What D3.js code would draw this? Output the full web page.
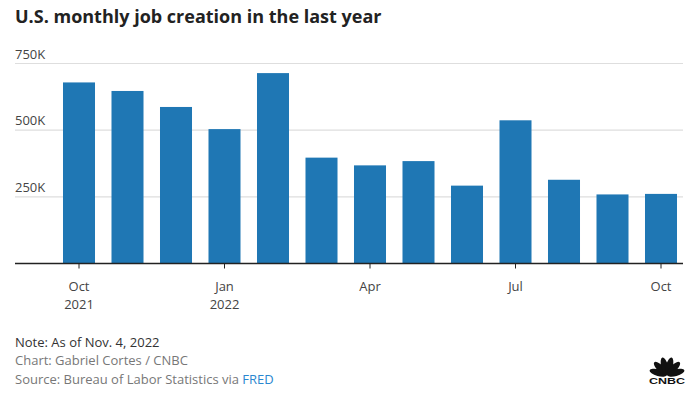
<!DOCTYPE html>
<html>
<head>
<meta charset="utf-8">
<script src="https://cdn.jsdelivr.net/npm/d3@7"></script>
<style>
  body { margin: 0; background: #fff; }
  svg { font-family: "Open Sans", Lato, sans-serif; }
</style>
</head>
<body>
<div class="canvas"></div>
<script>
// data
const months = ['2021-10','2021-11','2021-12','2022-01','2022-02','2022-03','2022-04',
                '2022-05','2022-06','2022-07','2022-08','2022-09','2022-10'];
const jobs = [679, 647, 587, 504, 714, 397, 368, 384, 292, 537, 314, 259, 261]; // thousands
const yTicks = [250, 500, 750];
const xTickLabels = {'2021-10': ['Oct','2021'], '2022-01': ['Jan','2022'], '2022-04': ['Apr'],
                     '2022-07': ['Jul'], '2022-10': ['Oct']};

const dims = {width: 700, height: 400};
const plot = {left: 15, right: 683, top: 63.5, bottom: 263.5};

const svg = d3.select('.canvas').append('svg')
  .attr('width', dims.width)
  .attr('height', dims.height);

// title
svg.append('text')
  .attr('x', 15).attr('y', 23)
  .attr('font-size', 18).attr('font-weight', 700)
  .attr('fill', '#222')
  .text('U.S. monthly job creation in the last year');

const x = d3.scaleBand()
  .domain(months)
  .range([54.75, 685.25])
  .paddingInner(0.34)
  .paddingOuter(0.17);

const y = d3.scaleLinear()
  .domain([0, 750])
  .range([plot.bottom, plot.top]);

// gridlines + labels
const grid = svg.append('g');
grid.selectAll('line').data(yTicks).enter().append('line')
  .attr('x1', plot.left).attr('x2', plot.right)
  .attr('y1', d => y(d)).attr('y2', d => y(d))
  .attr('stroke', '#dedede').attr('stroke-width', 1.2);
grid.selectAll('text').data(yTicks).enter().append('text')
  .attr('x', plot.left).attr('y', d => y(d) - 5)
  .attr('font-size', 13).attr('fill', '#444')
  .text(d => d + 'K');

// bars
svg.append('g').selectAll('rect').data(jobs).enter().append('rect')
  .attr('x', (d, i) => x(months[i]))
  .attr('width', x.bandwidth())
  .attr('y', d => y(d))
  .attr('height', d => y(0) - y(d))
  .attr('fill', '#1f77b4');

// x axis
const xAxis = svg.append('g');
xAxis.append('line')
  .attr('x1', plot.left).attr('x2', plot.right)
  .attr('y1', y(0)).attr('y2', y(0))
  .attr('stroke', '#222').attr('stroke-width', 1.5);

const tickMonths = Object.keys(xTickLabels);
const ticks = xAxis.selectAll('g.tick').data(tickMonths).enter().append('g')
  .attr('class', 'tick')
  .attr('transform', d => `translate(${x(d) + x.bandwidth() / 2},0)`);
ticks.append('line')
  .attr('y1', y(0)).attr('y2', y(0) + 5)
  .attr('stroke', '#222').attr('stroke-width', 1);
ticks.each(function(d) {
  const t = d3.select(this).append('text')
    .attr('text-anchor', 'middle')
    .attr('font-size', 13).attr('fill', '#444');
  xTickLabels[d].forEach((s, k) => {
    t.append('tspan').attr('x', 0).attr('y', 291 + k * 18).text(s);
  });
});

// footer
const foot = svg.append('g').attr('font-size', 13);
foot.append('text').attr('x', 15).attr('y', 346.5).attr('fill', '#333')
  .text('Note: As of Nov. 4, 2022');
foot.append('text').attr('x', 15).attr('y', 365).attr('fill', '#777')
  .text('Chart: Gabriel Cortes / CNBC');
const src = foot.append('text').attr('x', 15).attr('y', 383.5).attr('fill', '#777');
src.append('tspan').text('Source: Bureau of Labor Statistics via ');
src.append('tspan').attr('fill', '#2a87d0').text('FRED');

// CNBC peacock logo (rough)
const logo = svg.append('g').attr('transform', 'translate(667,375)');
const feathers = [-75, -45, -15, 15, 45, 75];
logo.selectAll('ellipse').data(feathers).enter().append('ellipse')
  .attr('cx', 0).attr('cy', -9).attr('rx', 3.4).attr('ry', 9)
  .attr('fill', '#111')
  .attr('transform', d => `rotate(${d},0,0)`);
logo.append('text')
  .attr('x', -18).attr('y', 8.5)
  .attr('textLength', 36).attr('lengthAdjust', 'spacingAndGlyphs')
  .attr('font-size', 9.5).attr('font-weight', 900)
  .attr('font-family', 'Liberation Sans, Arial, sans-serif')
  .attr('fill', '#111')
  .text('CNBC');
</script>
</body>
</html>
